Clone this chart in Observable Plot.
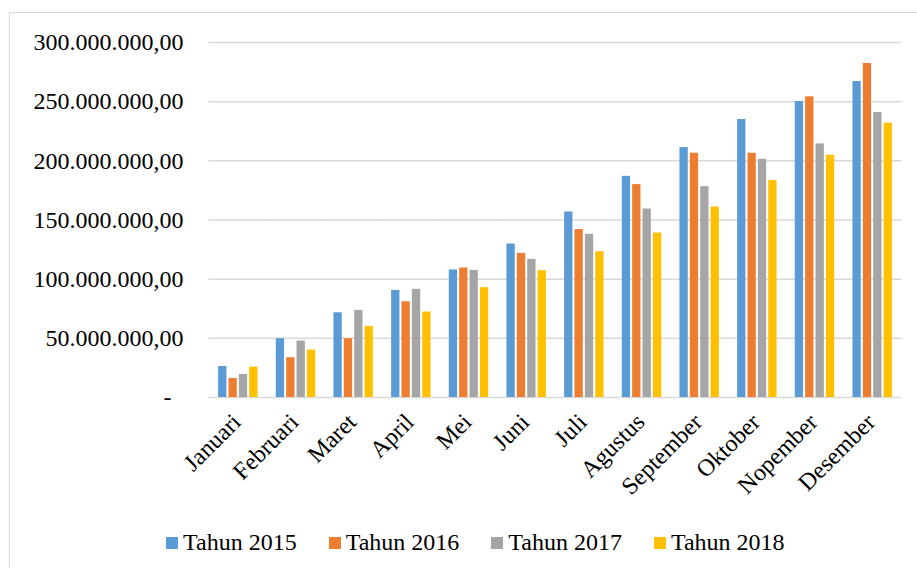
<!DOCTYPE html>
<html>
<head>
<meta charset="utf-8">
<script src="https://cdn.jsdelivr.net/npm/d3@7"></script>
<script src="https://cdn.jsdelivr.net/npm/@observablehq/plot@0.6"></script>
<style>
  html, body { margin: 0; padding: 0; background: #fff; overflow: hidden; }
  #wrap { position: relative; width: 917px; height: 568px; font-family: "Liberation Serif", "Times New Roman", serif; }
  #frame { position: absolute; left: 9px; top: 12px; width: 1000px; height: 1000px; border: 1.5px solid #d9d9d9; box-sizing: border-box; }
  #chart { position: absolute; left: 0; top: 0; }
  #legend { position: absolute; left: 166px; top: 529px; display: flex; align-items: center; font-size: 24px; color: #000; white-space: nowrap; }
  #legend .item { display: flex; align-items: center; margin-right: 32px; }
  #legend .sw { width: 12px; height: 12px; margin-right: 5px; }
</style>
</head>
<body>
<div id="wrap">
  <div id="frame"></div>
  <div id="chart"></div>
  <div id="legend"></div>
</div>
<script>
const months = ["Januari", "Februari", "Maret", "April", "Mei", "Juni", "Juli", "Agustus", "September", "Oktober", "Nopember", "Desember"];
const series = ["Tahun 2015", "Tahun 2016", "Tahun 2017", "Tahun 2018"];
const colors = ["#5B9BD5", "#ED7D31", "#A5A5A5", "#FFC000"];
// values in millions (Rp)
const tahun2015 = [26.2, 49.7, 71.6, 90.5, 107.8, 129.7, 156.8, 186.9, 211.2, 234.9, 250.1, 267.0];
const tahun2016 = [16.1, 33.6, 49.7, 80.9, 109.4, 121.8, 141.9, 179.9, 206.4, 206.4, 254.1, 282.3];
const tahun2017 = [19.5, 47.7, 73.6, 91.4, 107.4, 116.7, 137.9, 159.3, 178.2, 201.3, 214.3, 240.8];
const tahun2018 = [25.7, 40.1, 60.1, 72.2, 92.8, 107.2, 123.2, 139.0, 161.0, 183.3, 204.7, 231.8];
const yTicks = [0, 50000000, 100000000, 150000000, 200000000, 250000000, 300000000];

const allSeries = [tahun2015, tahun2016, tahun2017, tahun2018];
const data = [];
months.forEach((m, i) => {
  series.forEach((s, j) => {
    data.push({month: m, series: s, value: allSeries[j][i] * 1e6});
  });
});

const base = d3.format(",.2f");
const fmt = d => d === 0 ? "-\u2007" : base(d).replace(/,/g, "#").replace(".", ",").replace(/#/g, ".");

const W = 917, ML = 209, MR = 16;
const fxInner = 0.28, fxOuter = 0.14;
const step = (W - ML - MR) / (months.length - fxInner + 2 * fxOuter);
const half = step * fxInner / 2 + 0.5; // extend grid across facet gaps

const chart = Plot.plot({
  width: W,
  height: 500,
  marginTop: 42,
  marginBottom: 103,
  marginLeft: ML,
  marginRight: MR,
  style: {fontFamily: "'Liberation Serif', 'Times New Roman', serif", fontSize: "24px", background: "transparent", overflow: "visible", color: "#000"},
  fx: {domain: months, paddingInner: fxInner, paddingOuter: fxOuter, round: false, axis: null, label: null},
  x: {domain: series, paddingInner: 0.2, paddingOuter: 0.1, round: false, axis: null},
  y: {domain: [0, 300000000], axis: null},
  color: {domain: series, range: colors},
  marks: [
    Plot.ruleY(yTicks, {y: d => d, stroke: "#d9d9d9", strokeWidth: 1.5, insetLeft: -half, insetRight: -half}),
    Plot.barY(data, {fx: "month", x: "series", y: "value", fill: "series"}),
    Plot.axisY({ticks: yTicks, tickFormat: fmt, tickSize: 0, tickPadding: 26 + step * fxOuter, label: null, fontSize: 24, fill: "#000"}),
    Plot.text(months, {fx: d => d, text: d => d, frameAnchor: "bottom", rotate: -45, textAnchor: "end", lineAnchor: "bottom", dx: 4, dy: 26, fill: "#000"})
  ]
});
document.getElementById("chart").appendChild(chart);

const legend = document.getElementById("legend");
series.forEach((s, j) => {
  const item = document.createElement("div");
  item.className = "item";
  const sw = document.createElement("span");
  sw.className = "sw";
  sw.style.background = colors[j];
  const t = document.createElement("span");
  t.textContent = s;
  item.appendChild(sw);
  item.appendChild(t);
  legend.appendChild(item);
});
</script>
</body>
</html>
